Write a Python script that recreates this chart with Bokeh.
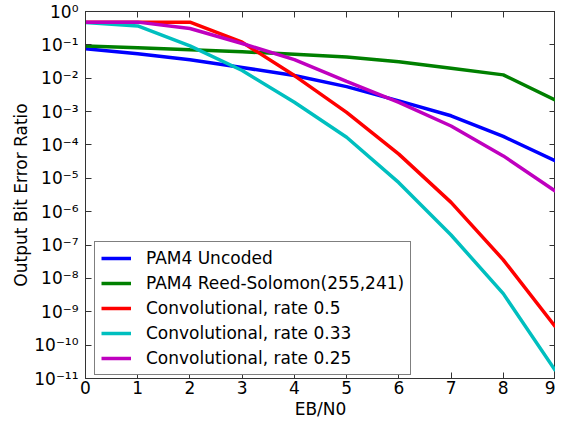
from bokeh.plotting import figure
from bokeh.models import LinearAxis, LogAxis, FixedTicker, CustomJSTickFormatter, Title
from bokeh.embed import file_html
from bokeh.resources import INLINE

ebn0 = [0, 1, 2, 3, 4, 5, 6, 7, 8, 9]
pam4_uncoded = [0.077, 0.054, 0.036, 0.021, 0.012, 0.0056, 0.0021, 7.5e-4, 1.8e-4, 3.3e-5]
pam4_rs = [0.093, 0.082, 0.071, 0.062, 0.052, 0.043, 0.031, 0.020, 0.0126, 0.0022]
conv_05 = [0.48, 0.48, 0.48, 0.12, 0.012, 9.5e-4, 5.3e-5, 1.9e-6, 3.6e-8, 3.5e-10]
conv_033 = [0.47, 0.37, 0.093, 0.017, 0.0019, 1.7e-4, 7.4e-6, 2.0e-7, 3.5e-9, 1.7e-11]
conv_025 = [0.48, 0.48, 0.31, 0.11, 0.036, 0.0081, 0.0019, 3.7e-4, 4.7e-5, 4.1e-6]

series_names = ["PAM4 Uncoded", "PAM4 Reed-Solomon(255,241)", "Convolutional, rate 0.5",
                "Convolutional, rate 0.33", "Convolutional, rate 0.25"]
series_colors = ["#0000ff", "#008000", "#ff0000", "#00bfbf", "#bf00bf"]

x_ticks = [0, 1, 2, 3, 4, 5, 6, 7, 8, 9]
y_ticks = [1e0, 1e-1, 1e-2, 1e-3, 1e-4, 1e-5, 1e-6, 1e-7, 1e-8, 1e-9, 1e-10, 1e-11]
y_labels = ["10⁰", "10⁻¹", "10⁻²", "10⁻³", "10⁻⁴", "10⁻⁵", "10⁻⁶",
            "10⁻⁷", "10⁻⁸", "10⁻⁹", "10⁻¹⁰", "10⁻¹¹"]
x_title = "EB/N0"
y_title = "Output Bit Error Ratio"

FONT = "DejaVu Sans"
FS = "17px"
FRAME = "#333333"

p = figure(width=547, height=418, y_axis_type="log", x_range=(0, 9), y_range=(1e-11, 1),
           output_backend="svg", toolbar_location=None,
           min_border_left=0, min_border_right=0, min_border_top=11, min_border_bottom=0,
           y_axis_label=y_title)
p.styles = {"margin-bottom": "-12px", "margin-left": "8px"}
p.grid.visible = False
p.outline_line_color = FRAME
p.outline_line_width = 1
p.background_fill_color = "white"
p.border_fill_color = "white"

yfmt = CustomJSTickFormatter(args=dict(labels=y_labels),
                             code="return labels[Math.round(-Math.log10(tick))];")
blank = CustomJSTickFormatter(code="return '';")

def style_axis(ax, show_labels=True):
    ax.axis_line_color = FRAME
    ax.major_tick_line_color = FRAME
    ax.major_tick_in = 6
    ax.major_tick_out = 0
    ax.minor_tick_line_color = None
    ax.major_label_text_font = FONT
    ax.major_label_text_color = "black"
    ax.axis_label_text_font = FONT
    ax.axis_label_text_font_size = FS
    ax.axis_label_text_font_style = "normal"
    ax.axis_label_text_color = "black"
    ax.major_label_text_font_size = FS
    if not show_labels:
        ax.formatter = blank
        ax.major_label_standoff = 0

xa = p.xaxis[0]
xa.ticker = FixedTicker(ticks=x_ticks)
style_axis(xa)
xa.major_label_standoff = 2

ya = p.yaxis[0]
ya.ticker = FixedTicker(ticks=y_ticks)
ya.formatter = yfmt
style_axis(ya)
ya.major_label_standoff = 7
ya.axis_label_standoff = 0

top = LinearAxis(ticker=FixedTicker(ticks=x_ticks))
style_axis(top, show_labels=False)
p.add_layout(top, "above")
right = LogAxis(ticker=FixedTicker(ticks=y_ticks))
style_axis(right, show_labels=False)
p.add_layout(right, "right")

xt = Title(text=x_title, align="center", vertical_align="bottom", standoff=0,
           text_font=FONT, text_font_size=FS, text_font_style="normal", text_color="black")
p.add_layout(xt, "below")

series = [pam4_uncoded, pam4_rs, conv_05, conv_033, conv_025]
for name, color, ys in zip(series_names, series_colors, series):
    p.line(ebn0, ys, line_color=color, line_width=3.5, legend_label=name)

lg = p.legend[0]
lg.location = (9, 3)
lg.margin = 0
lg.padding = 6
lg.spacing = 5
lg.label_height = 18
lg.glyph_height = 18
lg.glyph_width = 30
lg.label_standoff = 15
lg.label_text_font = FONT
lg.label_text_font_size = FS
lg.label_text_color = "black"
lg.border_line_color = "black"
lg.border_line_width = 1
lg.background_fill_color = "white"
lg.background_fill_alpha = 1

open("out.html", "w").write(file_html(p, INLINE))
